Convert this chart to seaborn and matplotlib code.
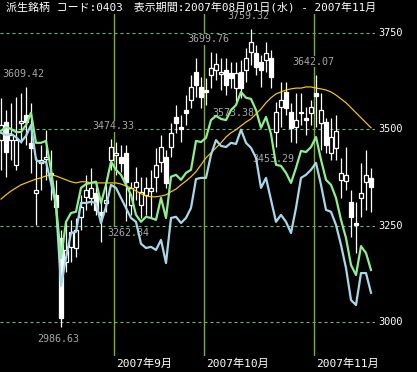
import numpy as np
import pandas as pd
import matplotlib
matplotlib.use("Agg")
import matplotlib.pyplot as plt
import seaborn as sns

title = "派生銘柄 コード:0403　表示期間:2007年08月01日(水) - 2007年11月"
month_labels = ["2007年9月", "2007年10月", "2007年11月"]
month_starts = [23, 41, 63]          # candle index of first trading day of the month
grid_levels = [3000, 3250, 3500, 3750]

opens = [3472, 3519, 3472, 3408, 3517, 3537, 3465, 3335, 3413, 3423,
         3387, 3330, 3218, 3156, 3195, 3192, 3273, 3325, 3322, 3335,
         3286, 3309, 3421, 3434, 3429, 3439, 3304, 3351, 3304, 3330,
         3340, 3377, 3416, 3429, 3454, 3532, 3506, 3550, 3576, 3649,
         3610, 3602, 3641, 3654, 3644, 3654, 3646, 3607, 3649, 3654,
         3701, 3698, 3675, 3680, 3685, 3493, 3558, 3597, 3545, 3506,
         3545, 3530, 3543, 3595, 3517, 3519, 3439, 3452, 3369, 3366,
         3312, 3257, 3322, 3364, 3374]
highs = [3582, 3550, 3569, 3584, 3595, 3609.42, 3569, 3429, 3459, 3499,
         3447, 3369, 3239, 3260, 3265, 3270, 3330, 3382, 3400, 3361,
         3317, 3356, 3474.33, 3467, 3459, 3459, 3364, 3403, 3377, 3377,
         3395, 3452, 3485, 3447, 3517, 3563, 3537, 3589, 3641, 3685,
         3636, 3633, 3699.76, 3697, 3685, 3685, 3675, 3675, 3680, 3711,
         3759.32, 3719, 3693, 3727, 3706, 3571, 3623, 3623, 3569, 3595,
         3595, 3558, 3576, 3642.07, 3595, 3530, 3530, 3537, 3426, 3454,
         3343, 3312, 3413, 3447, 3400]
lows = [3395, 3377, 3421, 3395, 3465, 3459, 3387, 3252, 3343, 3369,
        3317, 3278, 2986.63, 3130, 3156, 3169, 3239, 3291, 3304, 3278,
        3208, 3286, 3395, 3382, 3390, 3262.84, 3278, 3317, 3270, 3278,
        3270, 3338, 3390, 3348, 3429, 3491, 3467, 3511, 3556, 3584,
        3556, 3563, 3607, 3628, 3602, 3589, 3607, 3573.38, 3582, 3623,
        3667, 3641, 3610, 3649, 3607, 3453.29, 3506, 3537, 3467, 3465,
        3511, 3485, 3511, 3506, 3447, 3439, 3421, 3421, 3322, 3343,
        3221, 3179, 3273, 3291, 3286]
closes = [3511, 3441, 3485, 3472, 3522, 3519, 3452, 3343, 3421, 3429,
          3382, 3299, 3011, 3187, 3234, 3239, 3299, 3343, 3348, 3291,
          3278, 3317, 3454, 3439, 3413, 3364, 3348, 3364, 3338, 3348,
          3348, 3408, 3454, 3361, 3491, 3517, 3501, 3543, 3610, 3615,
          3584, 3597, 3659, 3670, 3649, 3615, 3633, 3646, 3607, 3685,
          3727, 3662, 3654, 3698, 3636, 3545, 3576, 3556, 3504, 3524,
          3543, 3524, 3558, 3587, 3550, 3459, 3480, 3496, 3387, 3382,
          3273, 3252, 3335, 3382, 3351]
green = [3496, 3506, 3501, 3493, 3493, 3511, 3543, 3465, 3465, 3470,
         3395, 3304, 3166, 3260, 3283, 3286, 3348, 3358, 3361, 3364,
         3309, 3356, 3416, 3395, 3382, 3356, 3330, 3278, 3260, 3273,
         3270, 3265, 3322, 3270, 3377, 3382, 3369, 3387, 3395, 3470,
         3467, 3478, 3524, 3535, 3527, 3524, 3550, 3563, 3597, 3582,
         3579, 3550, 3504, 3532, 3488, 3408, 3405, 3387, 3361, 3400,
         3444, 3441, 3454, 3480, 3421, 3369, 3356, 3322, 3265, 3218,
         3148, 3122, 3197, 3179, 3135]
blue = [3491, 3485, 3488, 3480, 3467, 3483, 3511, 3421, 3413, 3416,
        3361, 3304, 3094, 3166, 3231, 3234, 3309, 3309, 3312, 3309,
        3257, 3299, 3356, 3348, 3322, 3296, 3270, 3260, 3203, 3192,
        3195, 3187, 3213, 3153, 3270, 3273, 3257, 3270, 3296, 3371,
        3374, 3374, 3434, 3472, 3457, 3454, 3465, 3462, 3499, 3465,
        3452, 3426, 3348, 3374, 3317, 3260, 3278, 3260, 3231, 3296,
        3374, 3382, 3395, 3413, 3356, 3291, 3286, 3252, 3200, 3140,
        3057, 3044, 3127, 3127, 3076]
yellow = [3319, 3330, 3340, 3348, 3356, 3361, 3366, 3371, 3374, 3379,
          3382, 3379, 3374, 3369, 3364, 3361, 3364, 3364, 3361, 3361,
          3361, 3361, 3361, 3361, 3358, 3353, 3348, 3340, 3333, 3327,
          3325, 3325, 3327, 3330, 3338, 3345, 3356, 3366, 3377, 3390,
          3408, 3426, 3439, 3452, 3465, 3480, 3491, 3499, 3509, 3519,
          3527, 3540, 3553, 3569, 3582, 3592, 3597, 3602, 3605, 3607,
          3607, 3610, 3610, 3607, 3605, 3602, 3597, 3589, 3579, 3569,
          3556, 3543, 3530, 3517, 3504]

high_marks = [5, 22, 42, 50, 63]
low_marks = [12, 25, 47, 55]

df = pd.DataFrame({"i": np.arange(len(opens)), "open": opens, "high": highs,
                   "low": lows, "close": closes, "green": green,
                   "blue": blue, "yellow": yellow})

W, H = 417, 372
fig = plt.figure(figsize=(W / 100, H / 100), dpi=100, facecolor="black")
ax_top, ax_bot, ax_right = 14, 356, 375
ax = fig.add_axes([0, 1 - ax_bot / H, ax_right / W, (ax_bot - ax_top) / H])
ax.set_facecolor("black")

grid_col = "#5cbf8c"
for lv in grid_levels:
    ax.axhline(lv, color=grid_col, lw=0.8, ls=(0, (2.7, 2.7)), zorder=1)
for m in month_starts:
    ax.axvline(m - 0.45, color="#7ab032", lw=1.0, zorder=1)

# candles
up = df["close"] >= df["open"]
ax.vlines(df["i"], df["low"], df["high"], color="white", lw=0.9, zorder=2)
body_lo = np.minimum(df["open"], df["close"])
body_h = np.maximum(np.abs(df["close"] - df["open"]), 1.5)
ax.bar(df["i"][up], body_h[up], bottom=body_lo[up], width=0.68,
       facecolor="black", edgecolor="white", linewidth=0.9, zorder=2.2)
ax.bar(df["i"][~up], body_h[~up], bottom=body_lo[~up], width=0.68,
       facecolor="white", edgecolor="white", linewidth=0.9, zorder=2.2)

sns.lineplot(data=df, x="i", y="yellow", color="#ffcc00", lw=0.85, ax=ax, zorder=3)
sns.lineplot(data=df, x="i", y="blue", color="#a8d8e8", lw=1.6, ax=ax, zorder=3)
sns.lineplot(data=df, x="i", y="green", color="#90ee90", lw=1.6, ax=ax, zorder=3.1)
ax.set_xlim(-0.2, 74.8)
ax.set_ylim(2911.8, 3799.3)
ax.axis("off")

mono = ["DejaVu Sans Mono", "Noto Sans CJK JP"]
lab_col = "#a8a8a8"
for k in high_marks:
    dx = 2 if k == 22 else -3
    ax.annotate(f"{highs[k]:.2f}", (k, highs[k]), xytext=(dx, 13),
                textcoords="offset pixels", ha="center", va="center",
                color=lab_col, fontsize=7.2, family="DejaVu Sans Mono",
                bbox=dict(facecolor="black", edgecolor="none", pad=0.5),
                zorder=1.5)
for k in low_marks:
    dx = 2 if k == 25 else -3
    ax.annotate(f"{lows[k]:.2f}", (k, lows[k]), xytext=(dx, -12),
                textcoords="offset pixels", ha="center", va="center",
                color=lab_col, fontsize=7.2, family="DejaVu Sans Mono",
                bbox=dict(facecolor="black", edgecolor="none", pad=0.5),
                zorder=1.5)

# right-side level labels
for lv in grid_levels:
    yp = ax.transData.transform((0, lv))[1]
    fig.text(378 / W, yp / H, f"{lv}", color="white", fontsize=7.4,
             family="DejaVu Sans Mono", ha="left", va="center")

# month labels
for m, lab in zip(month_starts, month_labels):
    xp = ax.transData.transform((m - 0.45, 0))[0]
    fig.text((xp + 2) / W, 1 - 364 / H, lab, color="white", fontsize=8,
             family=mono, ha="left", va="center")

fig.text(6 / W, 1 - 7.5 / H, title, color="white", fontsize=7.9,
         family=mono, ha="left", va="center")

fig.savefig("out.png", dpi=100, facecolor="black")
